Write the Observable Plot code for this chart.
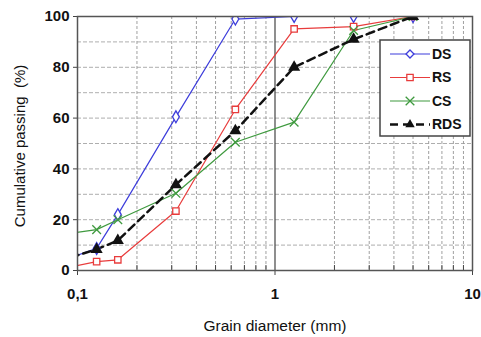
<!DOCTYPE html>
<html>
<head>
<meta charset="utf-8">
<script src="https://cdn.jsdelivr.net/npm/d3@7"></script>
<script src="https://cdn.jsdelivr.net/npm/@observablehq/plot@0.6"></script>
<style>
  html, body { margin: 0; padding: 0; background: #fff; }
  #chart svg { display: block; }
</style>
</head>
<body>
<div id="chart"></div>
<script>
// Sieve sizes (mm); the first one lies below the axis range and is clipped
const sieves = [0.08, 0.125, 0.16, 0.315, 0.63, 1.25, 2.5, 5];
const DS  = [3.3, 8.7, 22, 60.5, 99, 100, 100, 100];
const RS  = [0.5, 3.5, 4.2, 23.4, 63.4, 95.1, 96, 100];
const CS  = [13.9, 16.1, 20, 30.4, 50.5, 58.4, 94.5, 100];
const RDS = [3.7, 8.3, 11.8, 33.8, 55, 80, 91, 100];

const seriesNames = ["DS", "RS", "CS", "RDS"];
const yTicks = [0, 20, 40, 60, 80, 100];
const yGrid = [10, 20, 30, 40, 50, 60, 70, 80, 90];
const xMajor = [0.1, 1, 10];
const xMajorLabels = ["0,1", "1", "10"];
const xMinor = [0.2, 0.3, 0.4, 0.5, 0.6, 0.7, 0.8, 0.9, 2, 3, 4, 5, 6, 7, 8, 9];

const styles = {
  DS:  {color: "#3d3ddb", symbol: "diamond", r: 3.6, fill: "white", width: 1.2, dash: null},
  RS:  {color: "#e83c3c", symbol: "square", r: 3.6, fill: "white", width: 1.2, dash: null},
  CS:  {color: "#3f9a3f", symbol: "times", r: 4, fill: "none", width: 1.2, dash: null},
  RDS: {color: "#111111", symbol: "triangle", r: 4.5, fill: "#111111", width: 2.5, dash: "8,5"}
};

const valuesBy = {DS, RS, CS, RDS};
const data = seriesNames.flatMap(s => sieves.map((d, i) => ({series: s, d, p: valuesBy[s][i]})));
const labelMap = new Map(xMajor.map((d, i) => [d, xMajorLabels[i]]));

const font = "'Liberation Sans', Arial, sans-serif";
const lineMarks = seriesNames.map(s => Plot.line(data.filter(r => r.series === s), {
  x: "d", y: "p", stroke: styles[s].color, strokeWidth: styles[s].width,
  strokeDasharray: styles[s].dash, clip: true
}));
const dotMarks = seriesNames.map(s => Plot.dot(data.filter(r => r.series === s), {
  x: "d", y: "p", symbol: () => styles[s].symbol, r: styles[s].r,
  stroke: s === "RDS" ? "none" : styles[s].color, strokeWidth: 1.3,
  fill: styles[s].fill, clip: true
}));

const chart = Plot.plot({
  width: 481,
  height: 337,
  marginLeft: 77,
  marginRight: 9,
  marginTop: 16,
  marginBottom: 67,
  style: {fontFamily: font, fontSize: "14px", fontWeight: "bold", color: "#111", background: "white"},
  x: {type: "log", domain: [0.1, 10]},
  y: {domain: [0, 100]},
  symbol: {type: "identity"},
  marks: [
    Plot.gridX(xMinor, {stroke: "#888", strokeOpacity: 1, strokeWidth: 0.8, strokeDasharray: "3,2"}),
    Plot.gridY(yGrid, {stroke: "#999", strokeOpacity: 1, strokeWidth: 0.8, strokeDasharray: "4,2"}),
    Plot.ruleX([1], {stroke: "#444", strokeWidth: 1.2}),
    Plot.axisX(xMinor, {tickSize: 5, dy: -5, text: null, label: null, stroke: "#444"}),
    Plot.axisX(xMajor, {tickSize: 5, tickPadding: 13, tickFormat: d => labelMap.get(d), stroke: "#444",
      fontSize: 15, label: null}),
    Plot.axisY(yTicks, {tickSize: 4, tickPadding: 4, stroke: "#444", fontSize: 15, label: null}),
    ...lineMarks,
    ...dotMarks,
    Plot.frame({stroke: "#555", strokeWidth: 1.5})
  ]
});

// Axis titles and legend
const svg = d3.select(chart);
svg.append("text")
  .attr("x", 275).attr("y", 331)
  .attr("text-anchor", "middle")
  .attr("font-size", 15.5).attr("font-weight", "normal").attr("fill", "#111")
  .text("Grain diameter (mm)");
svg.append("text")
  .attr("transform", "translate(25,146) rotate(-90)")
  .attr("text-anchor", "middle")
  .attr("font-size", 15).attr("font-weight", "normal").attr("fill", "#111")
  .attr("xml:space", "preserve")
  .text("Cumulative passing  (%)");

const lg = svg.append("g").attr("transform", "translate(380,40)");
lg.append("rect").attr("width", 90).attr("height", 96)
  .attr("fill", "white").attr("stroke", "#444").attr("stroke-width", 1.5);
seriesNames.forEach((s, i) => {
  const st = styles[s];
  const y = 14 + i * 23.5;
  lg.append("line").attr("x1", 10).attr("x2", 50).attr("y1", y).attr("y2", y)
    .attr("stroke", st.color).attr("stroke-width", st.width)
    .attr("stroke-dasharray", st.dash);
  const symMap = {diamond: d3.symbolDiamond2, square: d3.symbolSquare, times: d3.symbolTimes, triangle: d3.symbolTriangle2};
  lg.append("path")
    .attr("d", d3.symbol(symMap[st.symbol], Math.PI * st.r * st.r)())
    .attr("transform", `translate(30,${y})`)
    .attr("fill", st.fill).attr("stroke", s === "RDS" ? "none" : st.color).attr("stroke-width", 1.3);
  lg.append("text").attr("x", 52).attr("y", y).attr("dy", "0.35em")
    .attr("text-anchor", "start")
    .attr("font-size", 14).attr("font-weight", "bold").attr("fill", "#111")
    .text(s);
});

document.getElementById("chart").appendChild(chart);
</script>
</body>
</html>
